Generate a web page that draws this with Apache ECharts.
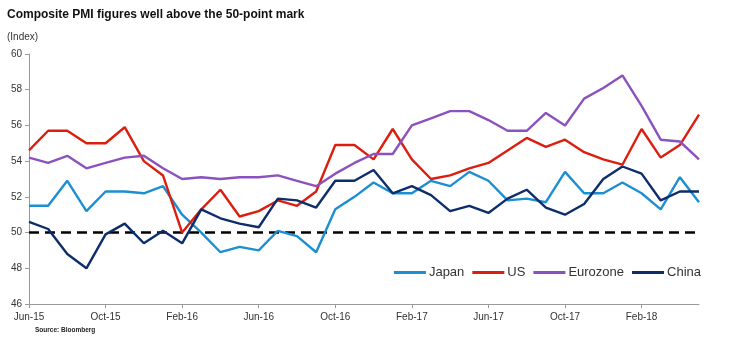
<!DOCTYPE html>
<html><head><meta charset="utf-8">
<script src="https://cdn.jsdelivr.net/npm/echarts@6/dist/echarts.min.js"></script>
<style>html,body{margin:0;padding:0;background:#fff}#c{width:746px;height:340px}</style>
</head><body><div id="c"></div>
<script>
const months = ['Jun-15','Jul-15','Aug-15','Sep-15','Oct-15','Nov-15','Dec-15','Jan-16','Feb-16','Mar-16','Apr-16','May-16','Jun-16','Jul-16','Aug-16','Sep-16','Oct-16','Nov-16','Dec-16','Jan-17','Feb-17','Mar-17','Apr-17','May-17','Jun-17','Jul-17','Aug-17','Sep-17','Oct-17','Nov-17','Dec-17','Jan-18','Feb-18','Mar-18','Apr-18','May-18'];
const japan = [51.5,51.5,52.9,51.2,52.3,52.3,52.2,52.6,51.0,50.0,48.9,49.2,49.0,50.1,49.8,48.9,51.3,52.0,52.8,52.2,52.2,52.9,52.6,53.4,52.9,51.8,51.9,51.7,53.4,52.2,52.2,52.8,52.2,51.3,53.1,51.7];
const us = [54.6,55.7,55.7,55.0,55.0,55.9,54.0,53.2,50.0,51.3,52.4,50.9,51.2,51.8,51.5,52.3,54.9,54.9,54.1,55.8,54.1,53.0,53.2,53.6,53.9,54.6,55.3,54.8,55.2,54.5,54.1,53.8,55.8,54.2,54.9,56.6];
const eurozone = [54.2,53.9,54.3,53.6,53.9,54.2,54.3,53.6,53.0,53.1,53.0,53.1,53.1,53.2,52.9,52.6,53.3,53.9,54.4,54.4,56.0,56.4,56.8,56.8,56.3,55.7,55.7,56.7,56.0,57.5,58.1,58.8,57.1,55.2,55.1,54.1];
const china = [50.6,50.2,48.8,48.0,49.9,50.5,49.4,50.1,49.4,51.3,50.8,50.5,50.3,51.9,51.8,51.4,52.9,52.9,53.5,52.2,52.6,52.1,51.2,51.5,51.1,51.9,52.4,51.4,51.0,51.6,53.0,53.7,53.3,51.8,52.3,52.3];
const seriesNames = ['Japan','US','Eurozone','China'];
const seriesData = [japan, us, eurozone, china];
const colors = ['#1b8fd2','#dc1e0f','#8b52bf','#0e2d6b'];
const yTicks = {min:46, max:60, interval:2};
const refLevel = 50;

const chart = echarts.init(document.getElementById('c'));
const font = 'Liberation Sans, Arial, sans-serif';
const series = seriesNames.map((n,i)=>({
  name:n, type:'line', data:seriesData[i], symbol:'none', smooth:false,
  lineStyle:{width:2.4,color:colors[i]}, itemStyle:{color:colors[i]}, z:3
}));
series.unshift({
  name:'ref', type:'line', data:months.map(()=>refLevel), symbol:'none',
  lineStyle:{width:2.4,color:'#000',type:[10,6]}, z:2, silent:true
});
chart.setOption({
  animation:false,
  textStyle:{fontFamily:font},
  title:[
    {text:'Composite PMI figures well above the 50-point mark',left:7,top:9,padding:0,textStyle:{fontSize:12,fontWeight:'bold',color:'#111',fontFamily:font}},
    {text:'(Index)',left:7,top:32,padding:0,textStyle:{fontSize:10,fontWeight:'normal',color:'#333',fontFamily:font}},
    {text:'Source: Bloomberg',left:35,top:327,padding:0,textStyle:{fontSize:6.5,fontWeight:'bold',color:'#222',fontFamily:font}}
  ],
  legend:{data:seriesNames, right:40, top:261, icon:'rect', itemWidth:32, itemHeight:3, itemGap:8,
    textStyle:{fontSize:13,color:'#333',fontFamily:font,padding:[0,0,0,-2]}},
  grid:{left:29,right:47,top:54,bottom:36,containLabel:false},
  xAxis:{type:'category',data:months,boundaryGap:false,
    axisLine:{lineStyle:{color:'#999',width:1}},
    axisTick:{interval:3,length:4,lineStyle:{color:'#999'}},
    axisLabel:{interval:3,fontSize:10,color:'#333',margin:8,fontFamily:font},
    splitLine:{show:false}},
  yAxis:{type:'value',min:yTicks.min,max:yTicks.max,interval:yTicks.interval,
    axisLine:{show:true,lineStyle:{color:'#999',width:1}},
    axisTick:{show:true,length:4,lineStyle:{color:'#999'}},
    axisLabel:{fontSize:10,color:'#333',margin:7,fontFamily:font},
    splitLine:{show:false}},
  series:series
});
</script></body></html>
